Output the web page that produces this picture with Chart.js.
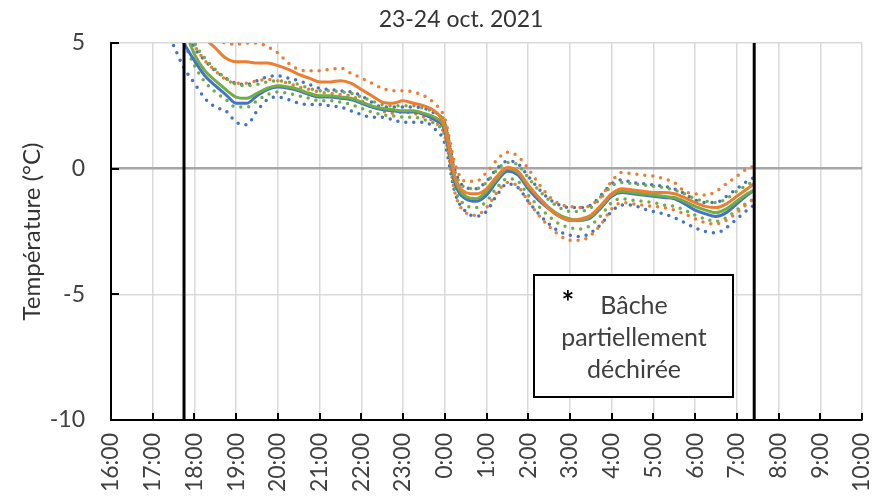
<!DOCTYPE html>
<html>
<head>
<meta charset="utf-8">
<script src="https://cdn.jsdelivr.net/npm/chart.js@4.4.0/dist/chart.umd.min.js"></script>
<style>
	html, body { margin: 0; padding: 0; background: #fff; }
	#wrap { width: 888px; height: 500px; }
</style>
</head>
<body>
<div id="wrap"><canvas id="temp" width="888" height="500"></canvas></div>
<script>
// Readings every 15 min, night of 23 to 24 Oct. 2021
const times = [
	'17:30','17:45','18:00','18:15','18:30','18:45','19:00','19:15','19:30','19:45',
	'20:00','20:15','20:30','20:45','21:00','21:15','21:30','21:45','22:00','22:15',
	'22:30','22:45','23:00','23:15','23:30','23:45','0:00','0:15','0:30','0:45',
	'1:00','1:15','1:30','1:45','2:00','2:15','2:30','2:45','3:00','3:15',
	'3:30','3:45','4:00','4:15','4:30','4:45','5:00','5:15','5:30','5:45',
	'6:00','6:15','6:30','6:45','7:00','7:15','7:25'
];

const blueMean = [
	6.0, 5.0, 4.3, 3.7, 3.3, 2.95, 2.6, 2.6, 2.9, 3.15,
	3.25, 3.2, 3.1, 2.95, 2.85, 2.85, 2.8, 2.75, 2.6, 2.45,
	2.35, 2.3, 2.25, 2.25, 2.15, 1.95, 1.5, -0.6, -1.2, -1.3,
	-1.05, -0.5, -0.1, -0.25, -0.8, -1.25, -1.6, -1.9, -2.05, -2.05,
	-1.95, -1.55, -1.1, -0.95, -1.0, -1.05, -1.1, -1.15, -1.2, -1.4,
	-1.65, -1.8, -1.9, -1.75, -1.4, -1.05, -0.85
];
const blueHigh = [
	7.0, 5.8, 4.8, 4.3, 3.9, 3.6, 3.4, 3.35, 3.5, 3.65,
	3.7, 3.6, 3.5, 3.35, 3.2, 3.15, 3.1, 3.05, 2.9, 2.65,
	2.45, 2.45, 2.45, 2.45, 2.4, 2.2, 1.8, -0.1, -0.75, -0.8,
	-0.5, 0.0, 0.3, 0.2, -0.3, -0.8, -1.2, -1.45, -1.55, -1.55,
	-1.45, -1.05, -0.6, -0.45, -0.55, -0.6, -0.65, -0.7, -0.8, -1.0,
	-1.25, -1.35, -1.35, -1.1, -0.8, -0.5, -0.35
];
const blueLow = [
	4.9, 4.0, 3.4, 2.8, 2.45, 2.3, 1.85, 1.75, 2.3, 2.75,
	2.85, 2.75, 2.6, 2.55, 2.55, 2.5, 2.45, 2.3, 2.15, 2.05,
	2.05, 1.95, 1.85, 1.85, 1.85, 1.6, 1.0, -1.0, -1.7, -1.9,
	-1.7, -1.05, -0.6, -0.75, -1.3, -1.8, -2.2, -2.5, -2.65, -2.7,
	-2.55, -2.2, -1.7, -1.45, -1.45, -1.6, -1.7, -1.8, -1.95, -2.15,
	-2.35, -2.5, -2.55, -2.35, -2.0, -1.65, -1.45
];

const orangeMean = [
	7.5, 6.6, 5.8, 5.2, 4.8, 4.4, 4.25, 4.25, 4.2, 4.2,
	4.1, 3.95, 3.75, 3.6, 3.45, 3.45, 3.5, 3.4, 3.15, 2.9,
	2.65, 2.6, 2.7, 2.6, 2.5, 2.3, 1.7, -0.35, -0.95, -1.0,
	-0.8, -0.3, 0.05, -0.1, -0.65, -1.15, -1.6, -1.9, -2.05, -2.0,
	-1.85, -1.45, -1.0, -0.8, -0.85, -0.9, -0.95, -0.95, -1.0, -1.15,
	-1.35, -1.5, -1.55, -1.4, -1.1, -0.8, -0.6
];
const orangeHigh = [
	8.5, 7.4, 6.5, 5.6, 5.15, 5.0, 4.95, 5.0, 5.0, 4.85,
	4.6, 4.2, 3.95, 3.9, 3.9, 3.95, 4.0, 3.8, 3.6, 3.4,
	3.2, 3.1, 3.1, 3.05, 2.9, 2.6, 2.0, 0.15, -0.5, -0.5,
	-0.15, 0.35, 0.65, 0.5, 0.0, -0.6, -1.1, -1.4, -1.5, -1.55,
	-1.45, -1.1, -0.5, -0.15, -0.2, -0.25, -0.3, -0.4, -0.55, -0.9,
	-1.0, -1.05, -0.9, -0.6, -0.3, 0.0, 0.1
];
const orangeLow = [
	6.8, 5.7, 4.9, 4.3, 3.9, 3.55, 3.4, 3.4, 3.5, 3.55,
	3.5, 3.4, 3.25, 3.15, 3.05, 3.0, 2.95, 2.9, 2.7, 2.5,
	2.3, 2.2, 2.25, 2.2, 2.05, 1.85, 1.3, -1.0, -1.75, -1.85,
	-1.55, -0.95, -0.55, -0.7, -1.3, -1.85, -2.3, -2.65, -2.85, -2.85,
	-2.65, -2.2, -1.6, -1.35, -1.4, -1.45, -1.5, -1.55, -1.65, -1.8,
	-2.0, -2.15, -2.2, -2.05, -1.75, -1.4, -1.2
];

const greenMean = [
	6.4, 5.6, 4.55, 3.9, 3.5, 3.15, 2.85, 2.8, 3.0, 3.2,
	3.3, 3.25, 3.15, 3.0, 2.9, 2.9, 2.85, 2.8, 2.65, 2.5,
	2.4, 2.35, 2.3, 2.3, 2.2, 2.05, 1.6, -0.45, -1.1, -1.2,
	-0.9, -0.4, 0.0, -0.15, -0.7, -1.15, -1.55, -1.85, -2.0, -2.05,
	-1.9, -1.5, -1.05, -0.9, -0.95, -1.0, -1.05, -1.1, -1.15, -1.3,
	-1.5, -1.65, -1.75, -1.6, -1.3, -1.0, -0.85
];
const greenHigh = [
	7.0, 6.0, 5.0, 4.4, 3.95, 3.6, 3.35, 3.3, 3.35, 3.45,
	3.5, 3.45, 3.35, 3.2, 3.1, 3.1, 3.05, 3.0, 2.85, 2.7,
	2.55, 2.5, 2.5, 2.5, 2.4, 2.25, 1.85, -0.15, -0.75, -0.8,
	-0.55, -0.05, 0.25, 0.15, -0.35, -0.85, -1.25, -1.55, -1.7, -1.7,
	-1.55, -1.15, -0.7, -0.55, -0.6, -0.65, -0.7, -0.75, -0.85, -1.0,
	-1.2, -1.3, -1.35, -1.2, -0.9, -0.65, -0.5
];
const greenLow = [
	5.8, 5.0, 4.1, 3.45, 3.05, 2.75, 2.45, 2.45, 2.7, 2.95,
	3.05, 3.0, 2.9, 2.8, 2.7, 2.7, 2.65, 2.55, 2.4, 2.25,
	2.15, 2.1, 2.05, 2.05, 1.95, 1.8, 1.3, -0.8, -1.45, -1.55,
	-1.3, -0.75, -0.4, -0.5, -1.05, -1.5, -1.9, -2.2, -2.35, -2.4,
	-2.25, -1.85, -1.35, -1.2, -1.25, -1.3, -1.35, -1.45, -1.5, -1.65,
	-1.85, -2.0, -2.1, -1.95, -1.65, -1.35, -1.2
];

// start and end of the recording window
const markerTimes = ['17:45', '7:25'];

const yMin = -10;
const yMax = 5;
const firstHour = 16;
const spanHours = 18;
const chartTitle = '23-24 oct. 2021';
const noteLines = ['Bâche', 'partiellement', 'déchirée'];

const BLUE = '#4472c4';
const ORANGE = '#ed7d31';
const GREEN = '#70ad47';
const FONT = 'Lato, "Open Sans", sans-serif';

// hours elapsed since 16:00 on the first day
const hourOf = function(t) {
	const [h, m] = t.split(':').map(Number);
	return (h >= firstHour ? h - firstHour : h + 24 - firstHour) + m / 60;
};

const toPoints = function(values) {
	return times.map((t, i) => ({ x: hourOf(t), y: values[i] }));
};

const solid = function(values, color, order) {
	return {
		data: toPoints(values),
		borderColor: color,
		borderWidth: 3,
		pointRadius: 0,
		cubicInterpolationMode: 'monotone',
		order: order,
	};
};

const dotted = function(values, color, order) {
	return {
		data: toPoints(values),
		borderColor: color,
		borderWidth: 3.5,
		borderDash: [0, 8],
		borderCapStyle: 'round',
		pointRadius: 0,
		cubicInterpolationMode: 'monotone',
		order: order,
	};
};

let datasets = [
	solid(orangeMean, ORANGE, 1),
	solid(greenMean, GREEN, 2),
	solid(blueMean, BLUE, 3),
	dotted(orangeHigh, ORANGE, 4),
	dotted(orangeLow, ORANGE, 5),
	dotted(greenHigh, GREEN, 6),
	dotted(greenLow, GREEN, 7),
	dotted(blueHigh, BLUE, 8),
	dotted(blueLow, BLUE, 9),
];

markerTimes.forEach(t => {
	datasets.push({
		data: [{ x: hourOf(t), y: yMin }, { x: hourOf(t), y: yMax }],
		borderColor: '#000',
		borderWidth: 3,
		pointRadius: 0,
		order: 0,
	});
});

// title, short black ticks pointing into the plot, and the note box
const chartExtras = {
	id: 'chartExtras',
	afterDraw(chart) {
		const ctx = chart.ctx;
		const { left, bottom } = chart.chartArea;
		const xs = chart.scales.x;
		const ys = chart.scales.y;

		ctx.save();
		ctx.fillStyle = '#333';
		ctx.font = '23px ' + FONT;
		ctx.textAlign = 'center';
		ctx.textBaseline = 'middle';
		ctx.fillText(chartTitle, 461, 20);

		ctx.strokeStyle = '#000';
		ctx.lineWidth = 2;
		ctx.beginPath();
		xs.ticks.forEach(tick => {
			const x = Math.round(xs.getPixelForValue(tick.value));
			ctx.moveTo(x, bottom);
			ctx.lineTo(x, bottom - 7);
		});
		ys.ticks.forEach(tick => {
			const y = Math.round(ys.getPixelForValue(tick.value));
			ctx.moveTo(left, y);
			ctx.lineTo(left + 8, y);
		});
		ctx.stroke();

		// note box
		const bx = 534, by = 275, bw = 199, bh = 122;
		ctx.fillStyle = '#fff';
		ctx.fillRect(bx, by, bw, bh);
		ctx.lineWidth = 2;
		ctx.strokeRect(bx, by, bw, bh);

		ctx.fillStyle = '#404040';
		ctx.font = '25px ' + FONT;
		ctx.textBaseline = 'alphabetic';
		noteLines.forEach((line, i) => {
			ctx.fillText(line, 634, 314 + i * 32);
		});
		ctx.fillStyle = '#000';
		ctx.font = 'bold 30px ' + FONT;
		ctx.fillText('*', 568, 313);
		ctx.restore();
	}
};

new Chart(document.getElementById('temp'), {
	type: 'line',
	data: { datasets: datasets },
	plugins: [chartExtras],
	options: {
		responsive: false,
		animation: false,
		layout: { padding: { left: 0, right: 26, top: 43, bottom: 0 } },
		plugins: {
			legend: { display: false },
			tooltip: { enabled: false },
		},
		scales: {
			x: {
				type: 'linear',
				min: 0,
				max: spanHours,
				afterFit: s => {
					s.height = 80;
					s.paddingLeft = 0;
					s.paddingRight = 0;
				},
				border: { display: true, color: '#000', width: 2 },
				grid: { color: '#d9d9d9', lineWidth: 1.5, drawTicks: false },
				ticks: {
					stepSize: 1,
					autoSkip: false,
					minRotation: 90,
					maxRotation: 90,
					padding: 13,
					color: '#404040',
					font: { family: FONT, size: 23 },
					callback: v => ((firstHour + v) % 24) + ':00',
				},
			},
			y: {
				min: yMin,
				max: yMax,
				afterFit: s => {
					s.width = 111;
					s.paddingTop = 0;
					s.paddingBottom = 0;
				},
				border: { display: true, color: '#000', width: 2 },
				grid: {
					drawTicks: false,
					color: c => c.tick && c.tick.value === 0 ? '#a6a6a6' : '#d9d9d9',
					lineWidth: c => c.tick && c.tick.value === 0 ? 2.5 : 1.5,
				},
				ticks: {
					stepSize: 5,
					padding: 26,
					color: '#404040',
					font: { family: FONT, size: 23 },
				},
				title: {
					display: true,
					text: 'Température (°C)',
					color: '#333',
					font: { family: FONT, size: 24 },
					padding: { top: 18, bottom: 0 },
				},
			},
		},
	},
});
</script>
</body>
</html>
